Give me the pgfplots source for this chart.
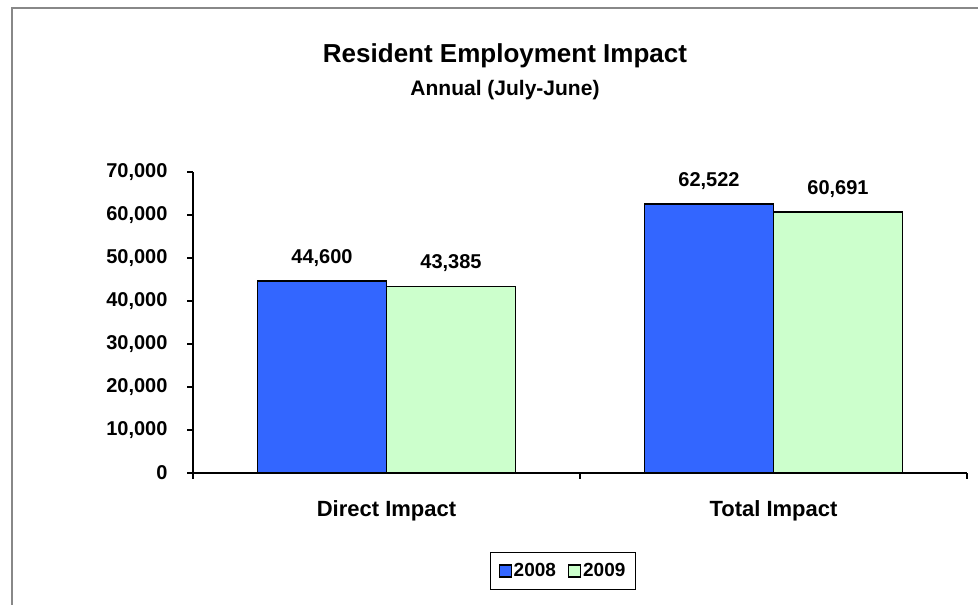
\documentclass[border=0pt]{standalone}
\usepackage{pgfplots}
\pgfplotsset{compat=1.18}
\usepackage{fontspec}
\setmainfont{Liberation Sans}
\definecolor{b08}{HTML}{3366FF}
\definecolor{g09}{HTML}{CCFFCC}
\definecolor{framegray}{HTML}{888888}
\begin{document}
\begin{tikzpicture}[x=1pt,y=1pt]
\useasboundingbox (0,0) rectangle (978,605);
\clip (0,0) rectangle (978,605);
\draw[framegray, line width=2pt] (12,-20) rectangle (1100,597);
\node[anchor=base, font=\fontsize{26}{30}\selectfont\bfseries] at (505,542) {Resident Employment Impact};
\node[anchor=base, font=\fontsize{21}{25}\selectfont\bfseries] at (505,509) {Annual (July-June)};
\begin{axis}[
  at={(193pt,132pt)}, anchor=south west,
  scale only axis, width=774pt, height=301pt,
  xmin=0, xmax=2, ymin=0, ymax=70000,
  axis lines*=left,
  axis line style={line width=1.5pt, black},
  tick align=outside, major tick length=6pt,
  tick style={line width=1.5pt, black},
  ytick={0,10000,20000,30000,40000,50000,60000,70000},
  scaled y ticks=false,
  /pgf/number format/1000 sep={,},
  /pgf/number format/fixed,
  /pgf/number format/assume math mode=true,
  yticklabel style={font=\fontsize{20}{24}\selectfont\bfseries, anchor=east, xshift=-16pt},
  xtick={0,1,2}, xticklabels={},
  extra x ticks={0.5,1.5},
  extra x tick labels={Direct Impact,Total Impact},
  extra x tick style={major tick length=0pt, xticklabel style={font=\fontsize{22}{26}\selectfont\bfseries, anchor=base, yshift=-44pt}},
  ybar, bar width=0.3333, bar shift=0pt,
  nodes near coords,
  nodes near coords style={font=\fontsize{20}{24}\selectfont\bfseries, anchor=base, yshift=18pt, black},
  legend columns=2,
  legend style={at={(0.478,-0.3256)}, anchor=center, draw=black, line width=1.5pt,
    font=\fontsize{19}{22}\selectfont\bfseries,
    inner xsep=8pt, inner ysep=9pt,
    /tikz/every even column/.append style={column sep=10pt}},
  legend image code/.code={\draw[#1, line width=1.2pt] (0pt,-6pt) rectangle (12pt,6pt);},
]
\addplot[fill=b08, draw=black, line width=1.5pt] coordinates {(0.3333,44600) (1.3333,62522)};
\addplot[fill=g09, draw=black, line width=1.5pt] coordinates {(0.6667,43385) (1.6667,60691)};
\legend{2008,2009}
\end{axis}
\end{tikzpicture}
\end{document}
